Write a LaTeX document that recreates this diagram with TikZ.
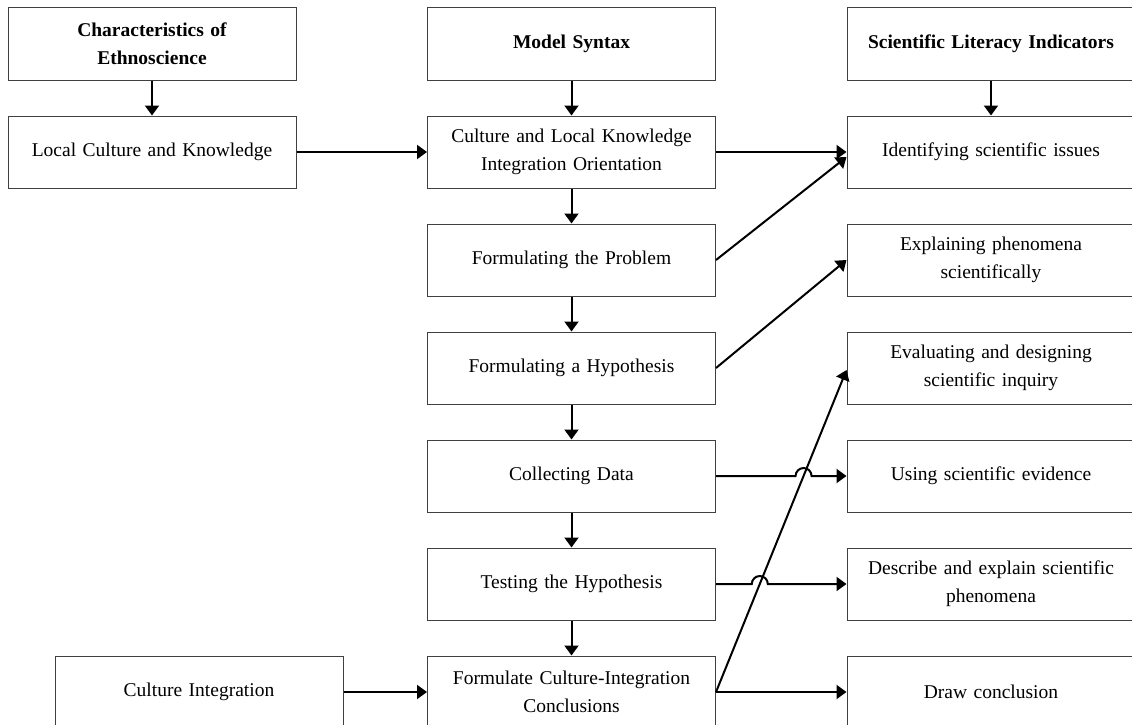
\documentclass[tikz,border=0pt]{standalone}
\usepackage{fontspec}
\setmainfont{Liberation Serif}
\usetikzlibrary{arrows.meta,calc}
\begin{document}
\begin{tikzpicture}[x=1pt,y=-1pt,
  box/.style={draw=black!75, line width=1pt, minimum width=288pt, minimum height=72pt,
    align=center, text width=280pt, inner sep=0pt, font=\fontsize{19.5}{28}\selectfont},
  hd/.style={box, font=\fontsize{19.5}{28}\selectfont\bfseries},
  arr/.style={line width=2pt, -{Triangle[length=10pt,width=14pt]}}]
\clip (0,0) rectangle (1132,725);
% left column
\node[hd]  (char)  at (152,44)  {Characteristics of\\Ethnoscience};
\node[box] (local) at (152,152) {Local Culture and Knowledge};
\node[box] (cint)  at (199,692) {Culture Integration};
% middle column
\node[hd]  (model)   at (571.5,44)  {Model Syntax};
\node[box] (clk)     at (571.5,152) {Culture and Local Knowledge\\Integration Orientation};
\node[box] (prob)    at (571.5,260) {Formulating the Problem};
\node[box] (hyp)     at (571.5,368) {Formulating a Hypothesis};
\node[box] (collect) at (571.5,476) {Collecting Data};
\node[box] (test)    at (571.5,584) {Testing the Hypothesis};
\node[box] (concl)   at (571.5,692) {Formulate Culture-Integration\\Conclusions};
% right column
\node[hd]  (sci)   at (991,44)  {Scientific Literacy Indicators};
\node[box] (ident) at (991,152) {Identifying scientific issues};
\node[box] (expl)  at (991,260) {Explaining phenomena\\scientifically};
\node[box] (eval)  at (991,368) {Evaluating and designing\\scientific inquiry};
\node[box] (use)   at (991,476) {Using scientific evidence};
\node[box] (desc)  at (991,584) {Describe and explain scientific\\phenomena};
\node[box] (drawc) at (991,692) {Draw conclusion};
% helper coordinates
\coordinate (idtip) at ([yshift=-5pt]ident.west);
\coordinate (evtip) at ([yshift=-2pt]eval.west);
% vertical arrows
\draw[arr] (char.south) -- (local.north);
\draw[arr] (model.south) -- (clk.north);
\draw[arr] (sci.south) -- (ident.north);
\draw[arr] (clk.south) -- (prob.north);
\draw[arr] (prob.south) -- (hyp.north);
\draw[arr] (hyp.south) -- (collect.north);
\draw[arr] (collect.south) -- (test.north);
\draw[arr] (test.south) -- (concl.north);
% horizontal and slanted arrows
\draw[arr] (local.east) -- (clk.west);
\draw[arr] (cint.east) -- (concl.west);
\draw[arr] (clk.east) -- (ident.west);
\draw[arr] (prob.east) -- (idtip);
\draw[arr] (hyp.east) -- (expl.west);
\draw[arr] (concl.east) -- (evtip);
\draw[arr] (concl.east) -- (drawc.west);
% jumps
\coordinate (j1) at (intersection of concl.east--evtip and collect.east--use.west);
\coordinate (j2) at (intersection of concl.east--evtip and test.east--desc.west);
\draw[arr] (collect.east) -- ($(j1)+(-8,0)$) arc[start angle=180,end angle=0,radius=8pt] -- (use.west);
\draw[arr] (test.east) -- ($(j2)+(-8,0)$) arc[start angle=180,end angle=0,radius=8pt] -- (desc.west);
\end{tikzpicture}
\end{document}
